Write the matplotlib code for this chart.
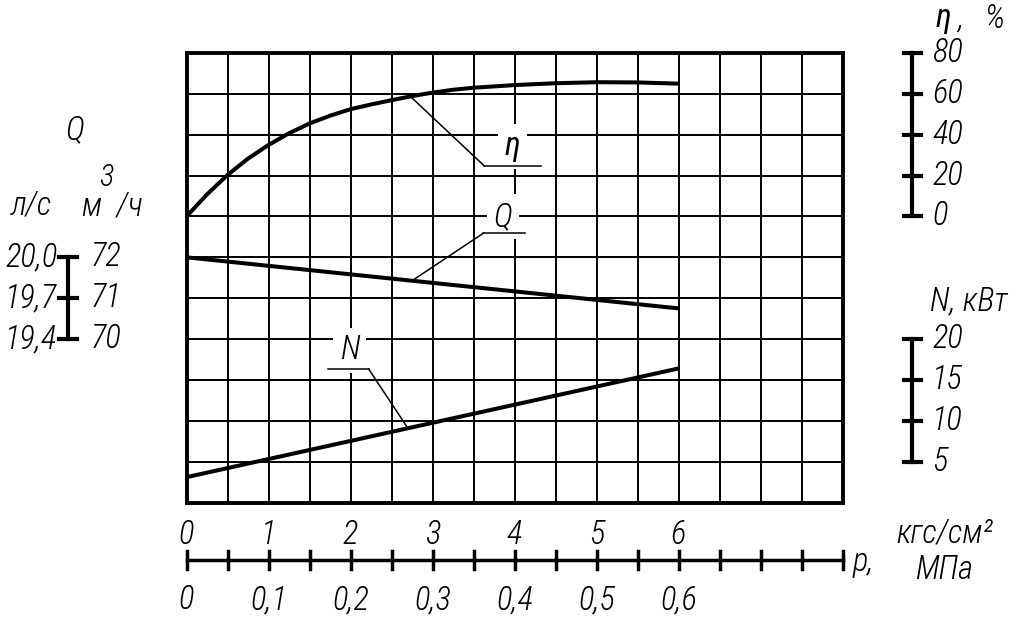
import numpy as np
import matplotlib
matplotlib.use("Agg")
import matplotlib.pyplot as plt
from matplotlib.transforms import blended_transform_factory as blend

plt.rcParams['font.family'] = ['Roboto Condensed', 'Roboto', 'DejaVu Sans']
plt.rcParams['font.style'] = 'italic'
plt.rcParams['font.weight'] = 'light'
plt.rcParams['font.size'] = 23.5

# ───── DATA ─────
# pressure p, kgf/cm2
p_eta = [0, 0.25, 0.5, 0.75, 1, 1.25, 1.5, 1.75, 2, 2.25, 2.5, 2.75, 3, 3.25, 3.5, 4, 4.5, 5, 5.5, 6]
eta = [0, 10.8, 20.3, 28.3, 35, 40.7, 45.5, 49.3, 52.5, 54.8, 56.9, 58.9, 60.6, 62.0, 63.0, 64.3, 65.2, 65.7, 65.6, 65.0]
p_line = [0, 6]
q_m3h = [72, 70.75]
n_kw = [3.1, 16.4]

# scales
eta_ticks = [0, 20, 40, 60, 80]
n_ticks = [5, 10, 15, 20]
q_ticks = [70, 71, 72]
q_ls_labels = ["19,4", "19,7", "20,0"]
q_m3h_labels = ["70", "71", "72"]
p_kgf_ticks = [0, 1, 2, 3, 4, 5, 6]
p_mpa_labels = ["0", "0,1", "0,2", "0,3", "0,4", "0,5", "0,6"]

# ───── FIGURE ─────
fig = plt.figure(figsize=(10.24, 6.25), dpi=100)
ax = fig.add_axes([186.5 / 1024, 1 - 502.5 / 625, 656 / 1024, 449.5 / 625])
ax.set_xlim(0, 8)
ax.set_ylim(0, 11)
ax.set_xticks(np.arange(0, 8.01, 0.5))
ax.set_yticks(np.arange(0, 11.01, 1))
ax.tick_params(length=0, labelbottom=False, labelleft=False)
ax.grid(True, color='black', lw=1.4)
for s in ax.spines.values():
    s.set_linewidth(2.8)

ax_eta = ax.twinx()
ax_eta.set_ylim(-140, 80)
ax_q = ax.twinx()
ax_q.set_ylim(66, 77)
ax_n = ax.twinx()
ax_n.set_ylim(0, 55)
for a in (ax_eta, ax_q, ax_n):
    a.axis('off')

# curves
ax_eta.plot(p_eta, eta, color='black', lw=2.9, solid_capstyle='butt')
ax_q.plot(p_line, q_m3h, color='black', lw=2.9, solid_capstyle='butt')
ax_n.plot(p_line, n_kw, color='black', lw=2.9, solid_capstyle='butt')

# ───── CURVE LABELS WITH LEADERS ─────
box = dict(boxstyle='square,pad=0.2', fc='white', ec='none')
labels = [
    # text, text pos, shelf x0, x1, shelf row, anchor p, joint x, axes, xs, ys, weight
    ("η", (3.98, 8.72), 3.63, 4.32, 8.24, 2.73, 3.63, ax_eta, p_eta, eta, 'normal'),
    ("Q", (3.86, 6.99), 3.62, 4.13, 6.59, 2.75, 3.62, ax_q, p_line, q_m3h, 'light'),
    ("N", (1.99, 3.73), 1.72, 2.22, 3.27, 2.70, 2.22, ax_n, p_line, n_kw, 'light'),
]
for txt, pos, x0, x1, row, pa, xj, a, xs, ys, w in labels:
    ax.text(pos[0], pos[1], txt, ha='center', va='center', bbox=box, zorder=3,
            weight=w)
    ax.plot([x0, x1], [row, row], color='black', lw=1.1, zorder=4)
    ax.annotate("", xy=(pa, np.interp(pa, xs, ys)), xycoords=a.transData,
                xytext=(xj, row), textcoords='data',
                arrowprops=dict(arrowstyle='-', lw=1.1, color='black',
                                shrinkA=0, shrinkB=0), zorder=4)

# ───── RIGHT SCALES ─────
for a, ticks in ((ax_eta, eta_ticks), (ax_n, n_ticks)):
    tr = blend(ax.transAxes, a.transData)
    a.plot([1.106, 1.106], [ticks[0], ticks[-1]], color='black', lw=3,
           transform=tr, clip_on=False)
    for t in ticks:
        a.plot([1.094, 1.119], [t, t], color='black', lw=3, transform=tr, clip_on=False)
        a.text(1.137, t, str(t), ha='left', va='center', transform=tr)

# ───── LEFT Q SCALE ─────
tr = blend(ax.transAxes, ax_q.transData)
ax_q.plot([-0.1806, -0.1806], [q_ticks[0], q_ticks[-1]], color='black', lw=3,
          transform=tr, clip_on=False)
for t, l1, l2 in zip(q_ticks, q_ls_labels, q_m3h_labels):
    ax_q.plot([-0.194, -0.167], [t, t], color='black', lw=3, transform=tr, clip_on=False)
    ax_q.text(-0.197, t, l1, ha='right', va='center', transform=tr)
    ax_q.text(-0.1456, t, l2, ha='left', va='center', transform=tr)

# ───── BOTTOM P SCALE ─────
tr = blend(ax.transData, ax.transAxes)
ax.plot([0, 8], [-0.128, -0.128], color='black', lw=2.5, transform=tr, clip_on=False)
for t in np.arange(0, 8.01, 0.5):
    ax.plot([t, t], [-0.108, -0.147], color='black', lw=2.5, transform=tr, clip_on=False)
for t, lab in zip(p_kgf_ticks, p_mpa_labels):
    ax.text(t, -0.072, str(t), ha='center', va='center', transform=tr)
    ax.text(t, -0.217, lab, ha='center', va='center', transform=tr)

# ───── AXIS TITLES ─────
fig.text(0.0732, 0.792, "Q", ha='center', va='center')
fig.text(0.0303, 0.672, "л/с", ha='center', va='center')
fig.text(0.110, 0.669, "м  /ч", ha='center', va='center')
fig.text(0.1035, 0.716, "3", ha='center', va='center', fontsize=22)
fig.text(0.914, 0.971, "η", ha='left', va='center', weight='normal')
fig.text(0.935, 0.971, ",   %", ha='left', va='center')
fig.text(0.908, 0.517, "N, кВт", ha='left', va='center')
fig.text(0.833, 0.101, "p,", ha='left', va='center')
fig.text(0.875, 0.147, "кгс/см²", ha='left', va='center')
fig.text(0.922, 0.088, "МПа", ha='center', va='center')

fig.savefig("out.png", dpi=100, facecolor='white')
